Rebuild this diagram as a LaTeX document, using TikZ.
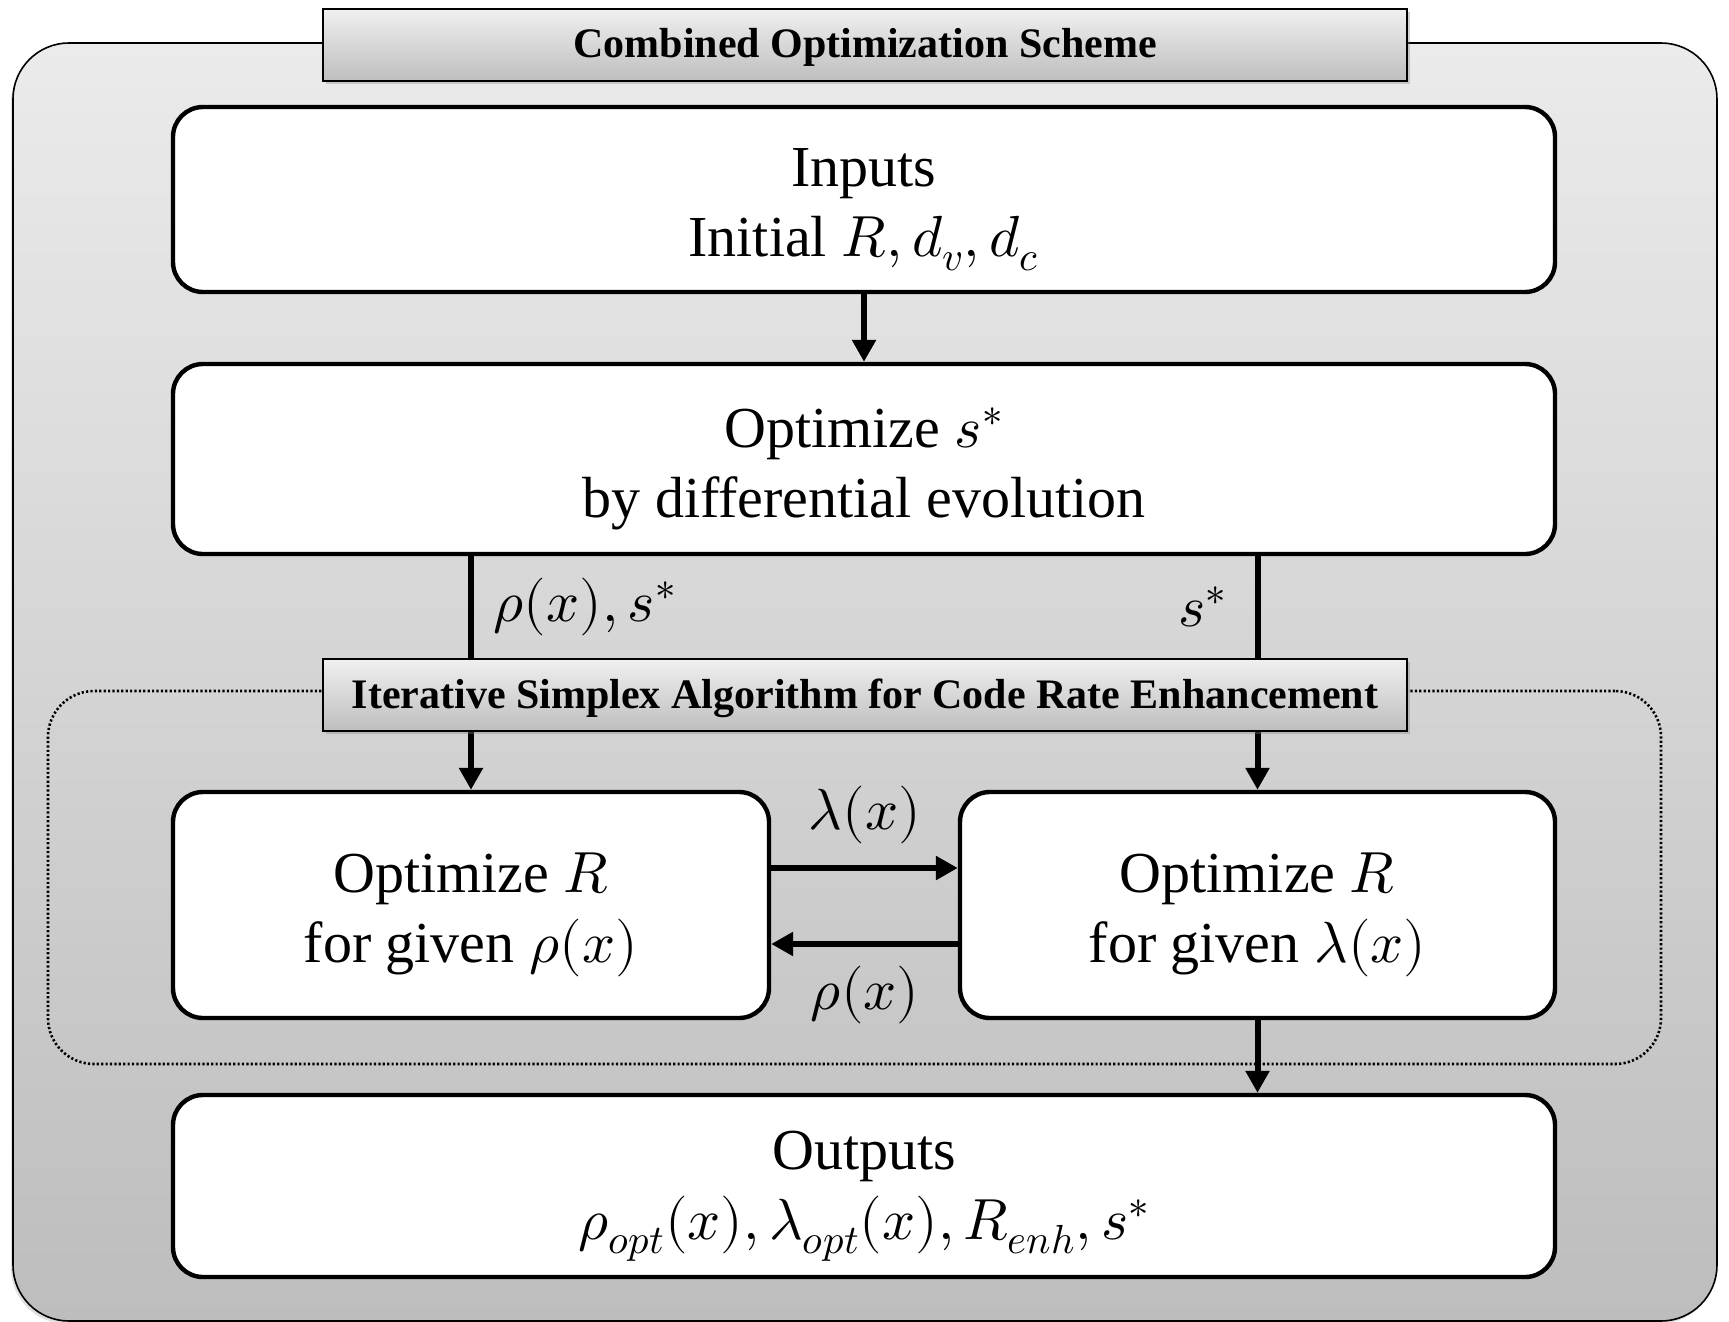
\documentclass[tikz,border=0pt]{standalone}
\usepackage{fontspec}
\usepackage{unicode-math}
\setmainfont{Liberation Serif}
\usetikzlibrary{arrows.meta,shadows}
\definecolor{bgtop}{HTML}{EBEBEB}
\definecolor{bgbot}{HTML}{BDBDBD}
\definecolor{ttop}{HTML}{F0F0F0}
\definecolor{tbot}{HTML}{BEBEBE}
\begin{document}
\begin{tikzpicture}[x=0.5pt,y=-0.5pt,
  every node/.style={font=\fontsize{29}{35}\selectfont},
  outerbox/.style={draw, line width=0.8pt, rounded corners=28pt, top color=bgtop, bottom color=bgbot, minimum width=852pt, minimum height=639pt, inner sep=0pt},
  loopbox/.style={draw, line width=1.3pt, dash pattern=on 1.1pt off 1.1pt, rounded corners=23pt, minimum width=806.5pt, minimum height=186.5pt, inner sep=0pt},
  titlebox/.style={draw, line width=0.8pt, top color=ttop, bottom color=tbot, minimum width=542pt, minimum height=36pt, inner sep=0pt, text height=13pt, text depth=0pt, font=\fontsize{21}{25}\selectfont\bfseries, drop shadow={shadow xshift=1.5pt, shadow yshift=-1.5pt, opacity=0.35}},
  stepbox/.style={draw, line width=2.2pt, rounded corners=15pt, fill=white, inner sep=0pt},
  steptext/.style={align=center, inner sep=0pt},
  arr/.style={line width=3pt, -{Triangle[length=11pt,width=11.5pt]}}
]
\useasboundingbox (0,0) rectangle (1729,1322);
\node[outerbox, drop shadow={shadow xshift=-1pt, shadow yshift=-1.5pt, opacity=0.25}] (outer) at (865,682) {};
\node[loopbox] (loop) at (854.5,877.5) {};

\node[stepbox, minimum width=691pt, minimum height=92.5pt] (inputs) at (864,199.5) {};
\node[steptext] (inputsT) at ([yshift=-5pt]inputs.center) {Inputs\\Initial $R, d_v, d_c$};
\node[stepbox, minimum width=691pt, minimum height=95pt] (opt) at (864,459) {};
\node[steptext] (optT) at ([yshift=-5pt]opt.center) {Optimize $s^*$\\by differential evolution};
\node[stepbox, minimum width=298pt, minimum height=113pt] (left) at (471,905) {};
\node[steptext] (leftT) at ([yshift=-5pt]left.center) {Optimize $R$\\for given $\rho(x)$};
\node[stepbox, minimum width=297.5pt, minimum height=113pt] (right) at (1257.5,905) {};
\node[steptext] (rightT) at ([yshift=-5pt]right.center) {Optimize $R$\\for given $\lambda(x)$};
\node[stepbox, minimum width=691pt, minimum height=91pt] (outputs) at (864,1186) {};
\node[steptext] (outputsT) at ([yshift=-5pt]outputs.center) {Outputs\\$\rho_{opt}(x), \lambda_{opt}(x), R_{enh}, s^*$};

\draw[arr] (inputs) -- (opt);
\draw[arr] (left |- opt.south) -- (left.north);
\draw[arr] (right |- opt.south) -- (right.north);
\draw[arr] (right.south) -- (right |- outputs.north);
\draw[arr] ([yshift=18.5pt]left.east) -- ([yshift=18.5pt]right.west);
\draw[arr] ([yshift=-19.5pt]right.west) -- ([yshift=-19.5pt]left.east);

\node (lam) at (865,815) {$\lambda(x)$};
\node (rho) at (865,995) {$\rho(x)$};
\node[anchor=west] (lbl1) at (486,607) {$\rho(x), s^*$};
\node[anchor=east] (lbl2) at (1234,607) {$s^*$};

\node[titlebox] (title1) at (865,45) {Combined Optimization Scheme};
\node[titlebox] (title2) at (865,695) {Iterative Simplex Algorithm for Code Rate Enhancement};
\end{tikzpicture}
\end{document}
